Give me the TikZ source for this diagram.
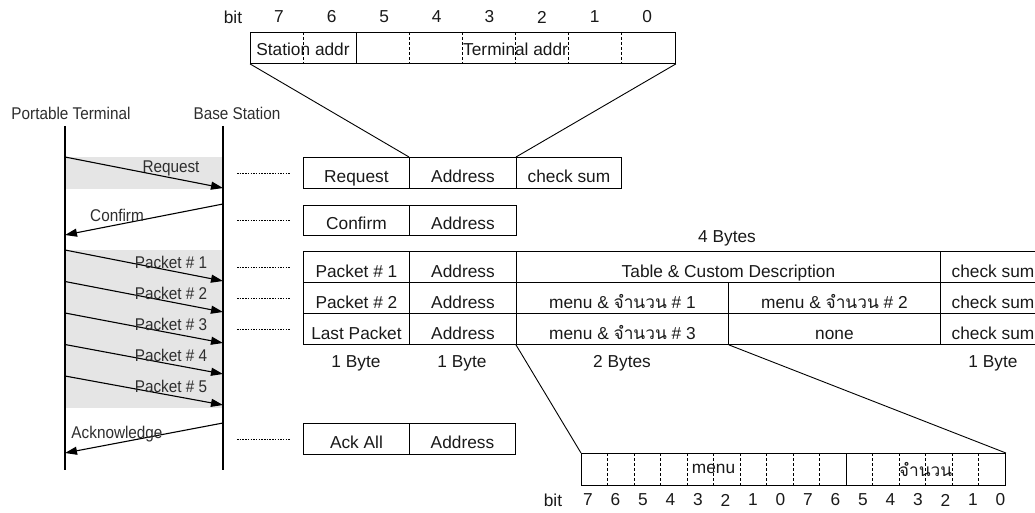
\documentclass[tikz,border=0pt]{standalone}
\usepackage{fontspec}
\setmainfont{Liberation Sans}
\newfontfamily\narrowsans[FakeStretch=0.9]{Liberation Sans}
\newfontfamily\thaifont[Script=Thai]{Loma}
\usetikzlibrary{arrows.meta}

\newcommand\tblfont{\fontsize{17.3pt}{20pt}\selectfont}
\newcommand\msgfont{\narrowsans\fontsize{17pt}{20pt}\selectfont}
\newcommand\thai[1]{{\thaifont #1}}

\tikzset{
  cell/.style={draw, line width=0.9pt, inner sep=0pt, anchor=north west,
    minimum height=31pt, text height=19pt, text depth=0pt,
    font=\tblfont, text=black!90},
  trow/.style={cell, text height=20.5pt},
  lbl/.style={inner sep=0pt, font=\tblfont, text=black!90},
  mlbl/.style={inner sep=0pt, font=\msgfont, text=black!82},
  lifeline/.style={line width=1.8pt},
  msg/.style={line width=1.1pt, -{Triangle[length=12pt,width=8pt]}},
  band/.style={fill=black!10},
  dotline/.style={line width=0.8pt, dash pattern=on 1.5pt off 1.2pt},
  regline/.style={line width=0.9pt},
  bitsep/.style={line width=0.8pt, dash pattern=on 3pt off 2pt},
  fanline/.style={line width=0.9pt}
}

\begin{document}
\begin{tikzpicture}[x=1pt, y=-1pt]
\clip (0,0) rectangle (1035,513);

% ---------- sequence chart ----------
\fill[band] (65,157) rectangle (223,189);
\fill[band] (65,250) rectangle (223,408);

\node[mlbl] (ptname) at (71,113) {Portable Terminal};
\node[mlbl] (bsname) at (237,113) {Base Station};

\coordinate (ptTop) at (65,126);
\coordinate (ptBot) at (65,470);
\coordinate (bsTop) at (223,126);
\coordinate (bsBot) at (223,470);
\draw[lifeline] (ptTop) -- (ptBot);
\draw[lifeline] (bsTop) -- (bsBot);

% message end points on the two lifelines
\coordinate (reqS) at (65,157);  \coordinate (reqE) at (223,188);
\coordinate (conS) at (223,204); \coordinate (conE) at (65,235);
\foreach \k in {0,...,4}{
  \coordinate (pk\k S) at (65,{250+31.5*\k});
  \coordinate (pk\k E) at (223,{281+31*\k});
}
\coordinate (ackS) at (223,423); \coordinate (ackE) at (65,453);

\draw[msg] (reqS) -- (reqE);
\draw[msg] (conS) -- (conE);
\foreach \k in {0,...,4}{ \draw[msg] (pk\k S) -- (pk\k E); }
\draw[msg] (ackS) -- (ackE);

\node[mlbl] (lreq) at (171,168) {Request};
\node[mlbl] (lcon) at (117,215) {Confirm};
\node[mlbl] (lp1) at (171,262) {Packet \# 1};
\node[mlbl] (lp2) at (171,293) {Packet \# 2};
\node[mlbl] (lp3) at (171,324) {Packet \# 3};
\node[mlbl] (lp4) at (171,355) {Packet \# 4};
\node[mlbl] (lp5) at (171,386) {Packet \# 5};
\node[mlbl] (lack) at (117,434) {Acknowledge};

% ---------- frame formats ----------
\node[cell, minimum width=106pt] (req)  at (303,157) {Request};
\node[cell, minimum width=107pt] (reqA) at (409,157) {Address};
\node[cell, minimum width=105pt] (reqC) at (516,157) {check sum};

\node[cell, minimum width=106pt, minimum height=30pt, text height=18pt] (con)  at (303,205) {Confirm};
\node[cell, minimum width=107pt, minimum height=30pt, text height=18pt] (conA) at (409,205) {Address};

\node[trow, minimum width=106pt] (p1)  at (303,251) {Packet \# 1};
\node[trow, minimum width=107pt] (p1A) at (409,251) {Address};
\node[trow, minimum width=424pt] (p1T) at (516,251) {Table \& Custom Description};
\node[trow, minimum width=105pt] (p1C) at (940,251) {check sum};

\node[trow, minimum width=106pt] (p2)  at (303,282) {Packet \# 2};
\node[trow, minimum width=107pt] (p2A) at (409,282) {Address};
\node[trow, minimum width=212pt] (p2M) at (516,282) {menu \& \thai{จำนวน} \# 1};
\node[trow, minimum width=212pt] (p2N) at (728,282) {menu \& \thai{จำนวน} \# 2};
\node[trow, minimum width=105pt] (p2C) at (940,282) {check sum};

\node[trow, minimum width=106pt] (p3)  at (303,313) {Last Packet};
\node[trow, minimum width=107pt] (p3A) at (409,313) {Address};
\node[trow, minimum width=212pt] (p3M) at (516,313) {menu \& \thai{จำนวน} \# 3};
\node[trow, minimum width=212pt] (p3N) at (728,313) {none};
\node[trow, minimum width=105pt] (p3C) at (940,313) {check sum};

\node[cell, minimum width=106pt] (ack)  at (303,423) {Ack All};
\node[cell, minimum width=106pt] (ackA) at (409,423) {Address};

% dotted leaders from the chart to the frames
\foreach \n in {req,con,p1,p2,p3,ack}{
  \draw[dotline] ([xshift=-66pt]\n.west) -- ([xshift=-13pt]\n.west);
}

% field sizes
\node[lbl] (sz4)  at (727,238) {4 Bytes};
\node[lbl] (sz1a) at (356,363) {1 Byte};
\node[lbl] (sz1b) at (462,363) {1 Byte};
\node[lbl] (sz2)  at (622,363) {2 Bytes};
\node[lbl] (sz1c) at (993,363) {1 Byte};

% ---------- address byte ----------
\node[draw, regline, inner sep=0pt, anchor=north west,
      minimum width=425pt, minimum height=31pt] (reg) at (250,32) {};
\foreach \k in {1,...,7}{
  \ifnum\k=2
    \draw[regline] ([xshift={53.125*\k}]reg.north west) -- ([xshift={53.125*\k}]reg.south west);
  \else
    \draw[bitsep] ([xshift={53.125*\k}]reg.north west) -- ([xshift={53.125*\k}]reg.south west);
  \fi
}
\node[lbl] (stn) at (303,49.5) {Station addr};
\node[lbl] (trm) at (515.6,49.5) {Terminal addr};
\node[lbl] (bitT) at (233,17) {bit};
\foreach \b [count=\k from 0] in {7,6,5,4,3,2,1,0}{
  \node[lbl] (bt\k) at ({279+52.6*\k},17) {\b};
}
\draw[fanline] (reg.south west) -- (reqA.north west);
\draw[fanline] (reg.south east) -- (reqC.north west);

% ---------- menu / quantity word ----------
\node[draw, regline, inner sep=0pt, anchor=north west,
      minimum width=424pt, minimum height=32pt] (breg) at (581,453) {};
\foreach \k in {1,...,15}{
  \ifnum\k=10
    \draw[regline] ([xshift={26.5*\k}]breg.north west) -- ([xshift={26.5*\k}]breg.south west);
  \else
    \draw[bitsep] ([xshift={26.5*\k}]breg.north west) -- ([xshift={26.5*\k}]breg.south west);
  \fi
}
\node[lbl] (mnu) at (713.5,469) {menu};
\node[lbl] (qty) at (925.5,469) {\thai{จำนวน}};
\node[lbl] (bitB) at (553,500) {bit};
\foreach \b [count=\k from 0] in {7,6,5,4,3,2,1,0,7,6,5,4,3,2,1,0}{
  \node[lbl] (bb\k) at ({588+27.5*\k},500) {\b};
}
\draw[fanline] (p3M.south west) -- (breg.north west);
\draw[fanline] (p3M.south east) -- (breg.north east);
\end{tikzpicture}
\end{document}
